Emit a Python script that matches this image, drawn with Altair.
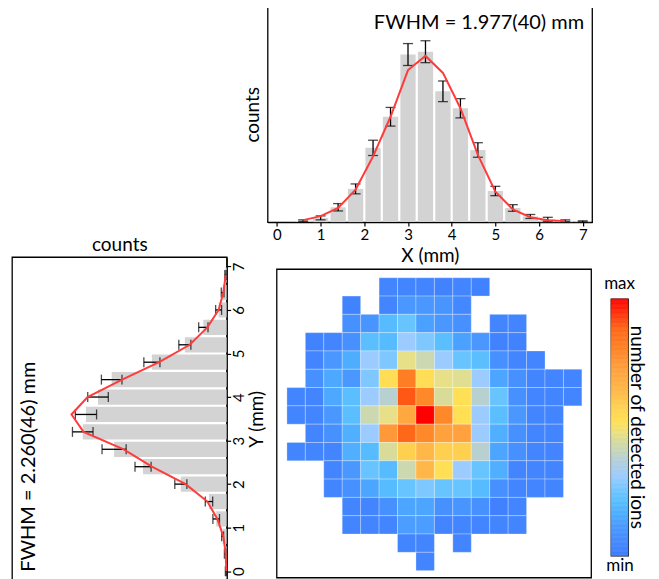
import altair as alt
import pandas as pd
import numpy as np

FONT = "Lato"

# ---------------- top histogram (X profile) ----------------
x_centers = [0.6, 1.0, 1.4, 1.8, 2.2, 2.6, 3.0, 3.4, 3.8, 4.2, 4.6, 5.0, 5.4, 5.8, 6.2, 6.6, 7.0]
x_counts = [2, 6, 21, 47, 105, 149, 237, 241, 185, 161, 102, 44, 20, 8, 4, 2, 1]
x_errors = [1.2, 2.8, 5.2, 7.0, 10.8, 13.2, 15.5, 15.5, 14.6, 13.6, 10.3, 6.6, 4.7, 2.8, 2.8, 1.2, 0.8]
x_fit_pos = [0.6, 1.0, 1.4, 1.8, 2.2, 2.6, 3.0, 3.4, 3.8, 4.2, 4.6, 5.0, 5.4, 5.8, 6.2, 6.6]
x_fit = [2.8, 8.5, 20, 46, 93, 149, 215, 235, 211, 161, 95, 43, 18, 7, 2.8, 1.4]
x_label = "FWHM = 1.977(40) mm"

# ---------------- left histogram (Y profile) ----------------
y_centers = [0.0, 0.4, 0.8, 1.2, 1.6, 2.0, 2.4, 2.8, 3.2, 3.6, 4.0, 4.4, 4.8, 5.2, 5.6, 6.0, 6.4, 6.8]
y_counts = [1, 2, 5, 13, 22, 57, 104, 140, 179, 175, 160, 143, 93, 52, 29, 10, 5, 1.5]
y_errors = [0.6, 0.8, 1.2, 4.1, 4.6, 7.5, 10, 15, 12.8, 13.2, 12.8, 12.8, 10, 7.5, 5.8, 3.7, 1.7, 0.8]
y_fit_pos = [0.0, 0.4, 0.8, 1.2, 1.6, 2.0, 2.4, 2.8, 3.2, 3.6, 4.0, 4.4, 4.8, 5.2, 5.6, 6.0, 6.4, 6.8]
y_fit = [0.4, 1.2, 4.1, 11.6, 24, 51, 93, 128, 178, 193, 173, 130, 84, 46, 24, 10, 4.1, 1.2]
y_label = "FWHM = 2.260(46) mm"

# ---------------- heat map (rows top -> bottom, columns left -> right) ----------------
N = None
heat_rows = [
    [N, N, N, N, N, 4, 4, 4, 3, 4, 3, N, N, N, N, N],
    [N, N, N, 3, N, 4, 11, 11, 10, 5, N, N, N, N, N, N],
    [N, N, N, 8, 10, 20, 24, 13, 11, 8, N, 4, 4, N, N, N],
    [N, 3, 4, 8, 21, 20, 31, 27, 21, 13, 11, 3, 3, N, N, N],
    [N, 4, 11, 16, 31, 27, 47, 42, 31, 24, 21, 8, 4, 4, N, N],
    [N, 8, 15, 11, 27, 53, 82, 53, 47, 46, 31, 14, 8, 4, 4, 4],
    [4, 4, 15, 21, 31, 38, 90, 79, 45, 52, 38, 24, 8, 4, 4, 4],
    [4, 4, 11, 21, 42, 47, 70, 100, 79, 52, 31, 21, 11, 4, 4, N],
    [N, 4, 8, 17, 31, 75, 88, 79, 72, 72, 31, 17, 8, 4, 4, N],
    [4, 4, 4, 17, 20, 45, 58, 64, 58, 58, 38, 14, 8, 4, 4, N],
    [N, N, 4, 11, 24, 20, 42, 64, 52, 31, 24, 17, 4, 4, 4, N],
    [N, N, 4, 8, 14, 20, 24, 27, 24, 24, 20, 8, 4, 4, 4, N],
    [N, N, N, 4, 4, 8, 14, 14, 8, 10, 8, 2, 4, N, N, N],
    [N, N, N, 4, 4, 4, 12, 12, 4, 4, 4, 4, 4, N, N, N],
    [N, N, N, N, N, N, 4, 4, N, 4, N, N, N, N, N, N],
    [N, N, N, N, N, N, N, 4, N, N, N, N, N, N, N, N],
]

# colour map stops (value -> colour)
cmap_stops = [0, 4, 8, 11, 14, 17, 20, 24, 27, 31, 38, 42, 45, 47, 52, 58, 64, 70, 75, 79, 88, 100]
cmap_colors = ["#3f7bff", "#4285ff", "#4690ff", "#4a98ff", "#4ca6ff", "#50b0ff", "#56bcff",
               "#68c4ff", "#7ec8ff", "#9ccbff", "#b8d0d0", "#ccd8b0", "#d8dc98", "#e8e088",
               "#ffe055", "#ffd050", "#ffb848", "#ffa840", "#ff9838", "#ff8828", "#ff6818", "#ff0000"]
cscale = alt.Scale(domain=cmap_stops, range=cmap_colors, interpolate="rgb")

BAR = "#d3d3d3"
RED = "#ff3b3b"


def spacer(w, h):
    return alt.Chart(pd.DataFrame({"a": pd.Series([], dtype=float)})).mark_point().encode(
        x=alt.X("a:Q", axis=None), y=alt.Y("a:Q", axis=None)
    ).properties(width=w, height=h, view=alt.ViewBackground(stroke=None))


# ---------- top histogram ----------
tdf = pd.DataFrame({"x": x_centers, "n": x_counts, "e": x_errors})
tdf["lo"] = tdf["n"] - tdf["e"]
tdf["hi"] = tdf["n"] + tdf["e"]
tfit = pd.DataFrame({"x": x_fit_pos, "n": x_fit})
txs = alt.Scale(domain=[-0.1, 7.1], nice=False, zero=False)
tys = alt.Scale(domain=[0, 305], nice=False)
tb = alt.Chart(tdf)
t_bars = tb.mark_bar(color=BAR, size=15.3).encode(
    x=alt.X("x:Q", scale=txs, axis=alt.Axis(values=list(range(8)), title="X (mm)", format="d",
                                            labelFontSize=15, titleFontSize=19, tickSize=4,
                                            labelPadding=1, titlePadding=4, labelFlush=False)),
    y=alt.Y("n:Q", scale=tys, axis=alt.Axis(title="counts", labels=False, ticks=False, domain=False,
                                            titleFontSize=19, titlePadding=5)),
)
t_rule = tb.mark_rule(color="black", strokeWidth=1.3).encode(x="x:Q", y="lo:Q", y2="hi:Q")
t_cap1 = tb.mark_tick(color="black", orient="horizontal", size=10, thickness=1.3).encode(x="x:Q", y="lo:Q")
t_cap2 = tb.mark_tick(color="black", orient="horizontal", size=10, thickness=1.3).encode(x="x:Q", y="hi:Q")
t_line = alt.Chart(tfit).mark_line(color=RED, strokeWidth=2).encode(x="x:Q", y="n:Q")
t_text = alt.Chart(pd.DataFrame({"t": [x_label]})).mark_text(
    align="right", baseline="alphabetic", fontSize=20, font=FONT, color="black"
).encode(x=alt.value(317), y=alt.value(23), text="t:N")
top = alt.layer(t_bars, t_rule, t_cap1, t_cap2, t_line, t_text).properties(width=325, height=216)

# ---------- left histogram ----------
ldf = pd.DataFrame({"y": y_centers, "n": y_counts, "e": y_errors})
ldf["lo"] = ldf["n"] - ldf["e"]
ldf["hi"] = ldf["n"] + ldf["e"]
lfit = pd.DataFrame({"y": y_fit_pos, "n": y_fit})
lxs = alt.Scale(domain=[0, 267], reverse=True, nice=False)
lys = alt.Scale(domain=[-0.1, 7.1], nice=False, zero=False)
lb = alt.Chart(ldf)
l_bars = lb.mark_bar(color=BAR, size=15.3, orient="horizontal").encode(
    y=alt.Y("y:Q", scale=lys, axis=alt.Axis(orient="right", values=list(range(8)), format="d",
                                            title="Y (mm)", titleAngle=270, labelAngle=270,
                                            labelAlign="center", labelBaseline="top",
                                            labelFontSize=15, titleFontSize=19, tickSize=4,
                                            labelPadding=1, labelFlush=False,
                                            titleX=30, titleY=162, titleAlign="center",
                                            titleBaseline="middle")),
    x=alt.X("n:Q", scale=lxs, axis=alt.Axis(orient="top", title="counts", labels=False, ticks=False,
                                            domain=False, titleFontSize=19, titlePadding=3)),
)
l_rule = lb.mark_rule(color="black", strokeWidth=1.3).encode(y="y:Q", x="lo:Q", x2="hi:Q")
l_cap1 = lb.mark_tick(color="black", orient="vertical", size=10, thickness=1.3).encode(y="y:Q", x="lo:Q")
l_cap2 = lb.mark_tick(color="black", orient="vertical", size=10, thickness=1.3).encode(y="y:Q", x="hi:Q")
l_line = alt.Chart(lfit).mark_line(color=RED, strokeWidth=2).encode(x="n:Q", y="y:Q", order="y:Q")
l_text = alt.Chart(pd.DataFrame({"t": [y_label]})).mark_text(
    align="center", baseline="alphabetic", fontSize=20, font=FONT, color="black", angle=270
).encode(x=alt.value(23), y=alt.value(210), text="t:N")
left = alt.layer(l_bars, l_rule, l_cap1, l_cap2, l_line, l_text).properties(width=215, height=324)

# ---------- heat map ----------
recs = []
for r, row in enumerate(heat_rows):
    for c, v in enumerate(row):
        if v is not None:
            recs.append({"col": c, "col2": c + 1, "row": r, "row2": r + 1, "v": v})
hdf = pd.DataFrame(recs)
heat = alt.Chart(hdf).mark_rect(stroke="white", strokeWidth=0.8, strokeOpacity=0.35).encode(
    x=alt.X("col:Q", scale=alt.Scale(domain=[-0.56, 16.5], nice=False, zero=False), axis=None),
    x2="col2:Q",
    y=alt.Y("row:Q", scale=alt.Scale(domain=[-0.475, 16.38], reverse=True, nice=False, zero=False), axis=None),
    y2="row2:Q",
    color=alt.Color("v:Q", scale=cscale, legend=None),
).properties(width=315, height=309)

# ---------- colour bar ----------
cb_v = np.arange(0, 100, 0.5)
cdf = pd.DataFrame({"v": cb_v, "v2": cb_v + 0.5, "k": "a"})
cbar = alt.Chart(cdf).mark_rect(strokeWidth=0.6).encode(
    x=alt.X("k:N", scale=alt.Scale(paddingInner=0, paddingOuter=0),
            axis=alt.Axis(title="min", labels=False, ticks=False, domain=False,
                          titleFontSize=17, titlePadding=2)),
    y=alt.Y("v:Q", scale=alt.Scale(domain=[0, 100], nice=False),
            axis=alt.Axis(orient="right", title="number of detected ions", labels=False, ticks=False,
                          domain=False, titleAngle=90, titleFontSize=19, titleX=2.5, titleY=128,
                          titleAlign="center", titleBaseline="alphabetic")),
    y2="v2:Q",
    color=alt.Color("v:Q", scale=cscale, legend=None),
    stroke=alt.Stroke("v:Q", scale=cscale, legend=None),
).properties(width=17, height=257,
             title=alt.TitleParams("max", fontSize=17, font=FONT, fontWeight="normal", offset=6))

# Layout: nested concat groups occupy no room in a flush layout, so each one is
# placed last in its parent and the parent's spacing carries the offset.
left_stack = alt.vconcat(spacer(215, 251), left, spacing=0, bounds="flush")
cb_stack = alt.vconcat(spacer(17, 30), cbar, spacing=0, bounds="flush")
heat_row = alt.hconcat(spacer(9, 1), heat, spacer(20, 1), cb_stack, spacing=0, bounds="flush")
right_stack = alt.vconcat(top, heat_row, spacing=47, bounds="flush")

chart = alt.hconcat(left_stack, right_stack, spacing=256, bounds="flush").resolve_scale(
    x="independent", y="independent"
).properties(
    padding={"top": -3, "left": 3, "right": 4, "bottom": 0}
).configure(font=FONT).configure_view(
    stroke="black", strokeWidth=1.3
).configure_axis(
    labelFont=FONT, titleFont=FONT, titleFontWeight="normal", labelColor="black", titleColor="black",
    tickColor="black", domainColor="black", grid=False, domainWidth=1.3, tickWidth=1.2
).configure_title(font=FONT, fontWeight="normal", color="black")

chart.save("out.html", embed_options={"renderer": "svg", "actions": False})
